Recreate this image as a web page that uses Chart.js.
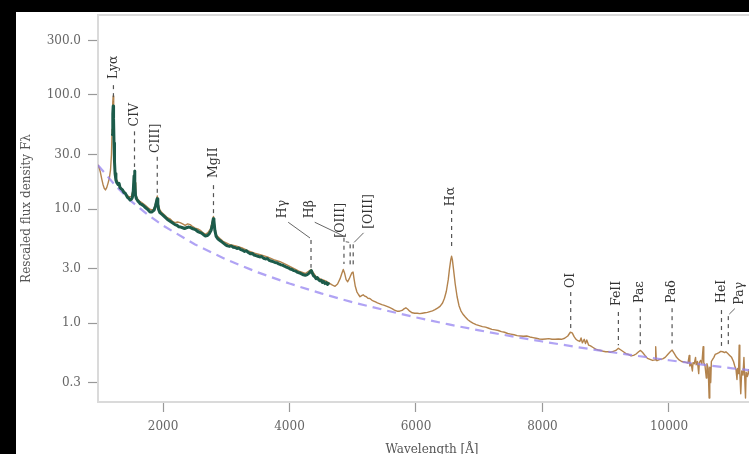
<!DOCTYPE html>
<html>
<head>
<meta charset="utf-8">
<script src="https://cdn.jsdelivr.net/npm/chart.js@4.4.1/dist/chart.umd.min.js"></script>
<style>
  html, body { margin: 0; padding: 0; background: #000; width: 749px; height: 454px; overflow: hidden; }
  #frame { position: absolute; left: 16px; top: 12px; width: 790px; height: 450px; background: #fff; }
  canvas { display: block; }
</style>
</head>
<body>
<div id="frame"><canvas id="spec" width="790" height="450"></canvas></div>
<script>
// ---- axis ticks ----
const xTickValues = [2000, 4000, 6000, 8000, 10000];
const yTickValues = [0.3, 1, 3, 10, 30, 100, 300];
const yTickLabels = ['0.3', '1.0', '3.0', '10.0', '30.0', '100.0', '300.0'];

// ---- full composite spectrum (wavelength in Å, rescaled F_lambda) ----
const tanWave = [
  972, 990, 1010, 1030, 1050, 1070, 1090, 1110, 1130, 1150, 1170, 1185, 1195, 1205, 1212, 1220, 1230, 1245,
  1265, 1290, 1320, 1350, 1385, 1420, 1460, 1500, 1525, 1540, 1550, 1558, 1570, 1600, 1640, 1680, 1720,
  1760, 1800, 1840, 1870, 1895, 1910, 1925, 1950, 1990, 2030, 2070, 2110, 2150, 2190, 2230, 2270, 2310,
  2350, 2390, 2430, 2470, 2510, 2550, 2590, 2630, 2670, 2710, 2750, 2780, 2798, 2815, 2840, 2870, 2900,
  2950, 3050, 3150, 3250, 3350, 3450, 3550, 3650, 3750, 3850, 3950, 4050, 4150, 4250, 4340, 4420, 4500,
  4580, 4640, 4680, 4720, 4760, 4800, 4830, 4850, 4870, 4895, 4920, 4945, 4965, 4985, 5005, 5020, 5040,
  5065, 5090, 5115, 5140, 5165, 5190, 5215, 5240, 5270, 5300, 5330, 5360, 5390, 5420, 5460, 5500, 5540,
  5580, 5620, 5660, 5700, 5740, 5780, 5810, 5840, 5870, 5900, 5940, 5980, 6020, 6060, 6100, 6140, 6180,
  6220, 6260, 6300, 6340, 6380, 6420, 6450, 6480, 6510, 6530, 6550, 6563, 6575, 6595, 6620, 6650, 6680,
  6710, 6740, 6780, 6820, 6860, 6900, 6950, 7000, 7050, 7100, 7150, 7200, 7250, 7300, 7350, 7400, 7450,
  7500, 7550, 7600, 7650, 7700, 7750, 7800, 7850, 7900, 7950, 8000, 8050, 8100, 8150, 8200, 8250, 8300,
  8350, 8400, 8440, 8470, 8500, 8530, 8560, 8590, 8610, 8630, 8660, 8680, 8700, 8730, 8760, 8800, 8840,
  8880, 8920, 8960, 9000, 9040, 9080, 9120, 9160, 9200, 9240, 9280, 9320, 9360, 9400, 9440, 9480, 9520,
  9550, 9580, 9620, 9660, 9700, 9740, 9780, 9790, 9800, 9820, 9860, 9900, 9940, 9980, 10020, 10050, 10080,
  10120, 10160, 10200, 10240, 10280, 10300, 10320, 10330, 10350, 10370, 10380, 10400, 10420, 10430, 10450,
  10470, 10480, 10500, 10520, 10540, 10550, 10570, 10590, 10600, 10620, 10635, 10645, 10660, 10670, 10690,
  10710, 10730, 10760, 10790, 10820, 10850, 10880, 10900, 10930, 10960, 10990, 11020, 11040, 11060, 11075,
  11085, 11100, 11110, 11120, 11135, 11150, 11170, 11185, 11195, 11210, 11220, 11240, 11260, 11280, 11300,
  11330, 11360, 11400, 11450, 11500, 11534
];
const tanFlux = [
  24.5, 23, 21, 18.5, 16.5, 15.2, 14.7, 15.4, 16.8, 18.5, 22, 30, 50, 85, 98, 70, 35, 21,
  18.2, 17.0, 15.8, 15.0, 14.3, 13.4, 12.8, 12.9, 14.5, 18, 20.5, 17, 13.2, 12.2, 11.6, 11.2, 10.8,
  10.3, 9.9, 9.8, 10.5, 12, 13, 11, 9.8, 9.2, 8.8, 8.4, 8.2, 7.8, 7.6, 7.7, 7.6, 7.4,
  7.2, 7.4, 7.3, 7.0, 6.8, 6.7, 6.5, 6.2, 6.0, 6.2, 6.7, 7.8, 8.6, 7.2, 6.0, 5.7, 5.5,
  5.2, 4.9, 4.75, 4.55, 4.3, 4.1, 3.95, 3.8, 3.6, 3.45, 3.25, 3.05, 2.85, 2.72, 2.95, 2.55, 2.42,
  2.33, 2.22, 2.15, 2.1, 2.2, 2.45, 2.75, 2.95, 2.75, 2.4, 2.3, 2.45, 2.6, 2.75, 2.8, 2.45, 2.1,
  1.88, 1.78, 1.70, 1.74, 1.77, 1.72, 1.70, 1.65, 1.64, 1.59, 1.56, 1.53, 1.50, 1.48, 1.45, 1.43, 1.40,
  1.37, 1.34, 1.30, 1.27, 1.27, 1.29, 1.33, 1.36, 1.32, 1.27, 1.23, 1.22, 1.22, 1.21, 1.22, 1.23, 1.24,
  1.26, 1.28, 1.31, 1.35, 1.40, 1.50, 1.65, 1.9, 2.4, 3.0, 3.6, 3.85, 3.6, 2.9, 2.2, 1.7, 1.42,
  1.28, 1.20, 1.13, 1.07, 1.03, 1.00, 0.97, 0.95, 0.93, 0.92, 0.90, 0.88, 0.87, 0.86, 0.84, 0.83, 0.81,
  0.80, 0.79, 0.775, 0.77, 0.765, 0.77, 0.755, 0.745, 0.735, 0.725, 0.72, 0.725, 0.73, 0.72, 0.72, 0.725, 0.72,
  0.735, 0.77, 0.83, 0.82, 0.76, 0.72, 0.70, 0.69, 0.74, 0.67, 0.72, 0.66, 0.71, 0.64, 0.63, 0.61, 0.59,
  0.58, 0.575, 0.565, 0.56, 0.56, 0.555, 0.565, 0.575, 0.60, 0.58, 0.56, 0.54, 0.53, 0.515, 0.52, 0.535, 0.56,
  0.575, 0.555, 0.52, 0.49, 0.48, 0.47, 0.475, 0.62, 0.47, 0.47, 0.48, 0.485, 0.50, 0.53, 0.56, 0.58, 0.545,
  0.50, 0.475, 0.46, 0.455, 0.45, 0.445, 0.52, 0.42, 0.44, 0.38, 0.45, 0.44, 0.50, 0.43, 0.46,
  0.36, 0.45, 0.47, 0.44, 0.62, 0.45, 0.42, 0.33, 0.44, 0.40, 0.22, 0.41, 0.30, 0.46, 0.48,
  0.50, 0.53, 0.54, 0.55, 0.565, 0.56, 0.55, 0.56, 0.54, 0.52, 0.50, 0.46, 0.42, 0.39, 0.32,
  0.40, 0.36, 0.64, 0.37, 0.24, 0.38, 0.35, 0.50, 0.36, 0.22, 0.37, 0.34, 0.39, 0.33, 0.36,
  0.31, 0.34, 0.32, 0.30, 0.31, 0.30
];

// ---- ultraviolet/optical spectrum overlaid in dark green ----
const greenWave = [
  1200, 1206, 1212, 1218, 1225, 1233, 1242, 1255, 1270, 1290, 1305, 1320, 1340, 1360, 1380, 1400, 1420,
  1440, 1460, 1480, 1500, 1515, 1530, 1542, 1550, 1557, 1565, 1580, 1600, 1620, 1640, 1660, 1680, 1700,
  1720, 1740, 1760, 1780, 1800, 1820, 1840, 1860, 1880, 1895, 1907, 1918, 1930, 1950, 1980, 2010, 2040,
  2070, 2100, 2130, 2160, 2190, 2220, 2250, 2280, 2310, 2340, 2370, 2400, 2430, 2460, 2490, 2520, 2550,
  2580, 2610, 2640, 2670, 2700, 2730, 2760, 2780, 2795, 2805, 2820, 2840, 2870, 2900, 2930, 2960, 2990,
  3020, 3050, 3080, 3110, 3140, 3170, 3200, 3230, 3260, 3290, 3320, 3350, 3380, 3410, 3440, 3470, 3500,
  3530, 3560, 3590, 3620, 3650, 3680, 3710, 3740, 3770, 3800, 3830, 3860, 3890, 3920, 3950, 3980, 4010,
  4040, 4070, 4100, 4130, 4160, 4190, 4220, 4250, 4280, 4310, 4330, 4345, 4360, 4380, 4400, 4420, 4440,
  4460, 4480, 4500, 4520, 4540, 4560, 4580, 4600, 4615
];
const greenFlux = [
  45, 68, 80, 62, 38, 26, 20.5, 18.0, 17.0, 16.4, 16.8, 15.4, 15.0, 14.7, 14.0, 13.8, 13.2,
  12.6, 12.4, 12.0, 12.2, 12.6, 14.5, 19.5, 21.5, 17.5, 13.2, 12.3, 11.8, 11.5, 11.1, 11.0, 10.8, 10.6,
  10.3, 10.1, 9.9, 9.6, 9.4, 9.4, 9.6, 9.8, 10.6, 11.5, 12.3, 11.0, 9.9, 9.3, 9.0, 8.7, 8.4,
  8.1, 7.9, 7.7, 7.5, 7.3, 7.2, 7.0, 6.95, 6.85, 6.75, 6.85, 6.95, 6.9, 6.75, 6.65, 6.55, 6.35,
  6.25, 6.15, 5.95, 5.8, 5.85, 6.05, 6.5, 7.3, 8.2, 7.9, 6.5, 5.75, 5.45, 5.3, 5.15, 5.0, 4.85,
  4.75, 4.7, 4.75, 4.62, 4.6, 4.5, 4.55, 4.4, 4.35, 4.25, 4.3, 4.15, 4.05, 4.08, 3.95, 3.9, 3.85,
  3.8, 3.83, 3.7, 3.65, 3.68, 3.55, 3.5, 3.45, 3.4, 3.38, 3.3, 3.25, 3.22, 3.15, 3.1, 3.05, 2.98,
  2.95, 2.88, 2.85, 2.78, 2.75, 2.7, 2.65, 2.62, 2.66, 2.74, 2.84, 2.88, 2.74, 2.6, 2.55, 2.45, 2.5,
  2.4, 2.35, 2.37, 2.27, 2.31, 2.22, 2.26, 2.18, 2.22
];

// ---- power-law continuum estimate (dashed) ----
const contWave = [972, 1250, 1500, 1750, 2000, 2500, 3000, 3500, 4000, 4500, 5000, 5500, 6000, 6500, 7000,
  7500, 8000, 8500, 9000, 9500, 10000, 10500, 11000, 11534];
const contFlux = [24.2, 16.0, 11.65, 9.0, 7.16, 4.91, 3.61, 2.78, 2.22, 1.82, 1.52, 1.30, 1.12, 0.977, 0.862,
  0.767, 0.689, 0.621, 0.564, 0.515, 0.472, 0.434, 0.401, 0.371];

// ---- identified emission lines ----
const lineNames = ['Lyα', 'CIV', 'CIII]', 'MgII', 'Hγ', 'Hβ', '[OIII]', '[OIII]', 'Hα', 'OI', 'FeII', 'Paε', 'Paδ', 'HeI', 'Paγ'];
const lineWaves = [1216, 1549, 1909, 2798, 4340, 4861, 4959, 5007, 6563, 8446, 9200, 9546, 10049, 10830, 10938];

// label placement per line: [label wavelength, label base flux, dash top flux, dash bottom flux]
const labelSpots = [
  [1216, 138, 122, 88],
  [1549, 53, 48, 23.4],
  [1880, 31, 28.7, 13.3],
  [2798, 18.7, 16.2, 8.7],
  [3900, 8.3, 5.35, 3.05],
  [4320, 8.3, 5.6, 3.3],
  [4810, 5.6, 4.9, 3.1],
  [5250, 6.7, 4.9, 3.1],
  [6550, 10.6, 9.8, 4.4],
  [8446, 2.03, 1.87, 0.90],
  [9180, 1.41, 1.25, 0.64],
  [9530, 1.5, 1.35, 0.64],
  [10040, 1.5, 1.35, 0.66],
  [10830, 1.5, 1.3, 0.63],
  [11120, 1.45, 1.15, 0.63]
];

const toPoints = (w, f) => w.map((v, i) => ({ x: v, y: f[i] }));

const serif = '"DejaVu Serif", "Liberation Serif", serif';

const noEdgePadding = s => { s.paddingTop = 0; s.paddingBottom = 0; s.paddingLeft = 0; s.paddingRight = 0; };

const frameLines = {
  id: 'frameLines',
  beforeDatasetsDraw(chart) {
    const { ctx, chartArea: a } = chart;
    ctx.save();
    ctx.strokeStyle = '#dadada';
    ctx.lineWidth = 2;
    ctx.beginPath();
    ctx.moveTo(a.left, a.top);
    ctx.lineTo(a.right, a.top);
    ctx.stroke();
    ctx.restore();
  }
};

const lineLabels = {
  id: 'lineLabels',
  afterDatasetsDraw(chart) {
    const { ctx, scales: { x, y } } = chart;
    ctx.save();
    ctx.font = '12.5px ' + serif;
    ctx.fillStyle = '#333';
    ctx.strokeStyle = '#555';
    ctx.lineWidth = 1.2;
    lineNames.forEach((name, i) => {
      const px = x.getPixelForValue(lineWaves[i]);
      const [lw, lf, dt, db] = labelSpots[i];
      const lx = x.getPixelForValue(lw);
      const ly = y.getPixelForValue(lf);
      const yt = y.getPixelForValue(dt);
      const yb = y.getPixelForValue(db);
      ctx.setLineDash([4, 4]);
      ctx.beginPath();
      ctx.moveTo(px, yt);
      ctx.lineTo(px, yb);
      ctx.stroke();
      if (Math.abs(lx - px) > 3) {
        const dir = px > lx ? 1 : -1;
        ctx.setLineDash([]);
        ctx.lineWidth = 0.9;
        ctx.beginPath();
        ctx.moveTo(lx + dir * 5, ly + 4);
        ctx.lineTo(px - dir * 1, yt - 2);
        ctx.stroke();
        ctx.lineWidth = 1.2;
      }
      ctx.save();
      ctx.translate(lx, ly);
      ctx.rotate(-Math.PI / 2);
      ctx.textAlign = 'left';
      ctx.textBaseline = 'middle';
      ctx.fillText(name, 0, 0);
      ctx.restore();
    });
    ctx.restore();
  }
};

new Chart(document.getElementById('spec'), {
  type: 'scatter',
  data: {
    datasets: [
      {
        data: toPoints(greenWave, greenFlux),
        showLine: true, borderColor: '#1c5b4a', borderWidth: 3, pointRadius: 0,
        borderJoinStyle: 'round', borderCapStyle: 'round'
      },
      {
        data: toPoints(contWave, contFlux),
        showLine: true, borderColor: 'rgba(150, 132, 240, 0.75)', borderWidth: 2.2, pointRadius: 0,
        borderDash: [9, 6]
      },
      {
        data: toPoints(tanWave, tanFlux),
        showLine: true, borderColor: '#b3834d', borderWidth: 1.4, pointRadius: 0,
        borderJoinStyle: 'round'
      }
    ]
  },
  options: {
    responsive: false,
    animation: false,
    layout: { padding: { top: 3, right: 40, left: 0, bottom: 0 } },
    plugins: { legend: { display: false }, tooltip: { enabled: false } },
    scales: {
      x: {
        type: 'linear', min: 972, max: 11534,
        afterBuildTicks: s => { s.ticks = xTickValues.map(v => ({ value: v })); },
        afterFit: s => { s.height = 60; noEdgePadding(s); },
        grid: { display: true, drawOnChartArea: false, drawTicks: true, tickLength: 10, tickColor: '#999', tickWidth: 1.2 },
        border: { display: true, color: '#dadada', width: 2 },
        ticks: { padding: 8, color: '#666', font: { family: serif, size: 12 }, maxRotation: 0, callback: v => String(v) },
        title: { display: true, text: 'Wavelength [Å]', color: '#555', font: { family: serif, size: 12 }, padding: { top: 0, bottom: 5 } }
      },
      y: {
        type: 'logarithmic', min: 0.203, max: 503,
        afterBuildTicks: s => { s.ticks = yTickValues.map(v => ({ value: v })); },
        afterFit: s => { s.width = 82; noEdgePadding(s); },
        grid: { display: true, drawOnChartArea: false, drawTicks: true, tickLength: 10, tickColor: '#999', tickWidth: 1.2 },
        border: { display: true, color: '#dadada', width: 2 },
        ticks: {
          padding: 7, color: '#666', font: { family: serif, size: 12 },
          callback: v => { const k = yTickValues.indexOf(v); return k >= 0 ? yTickLabels[k] : ''; }
        },
        title: { display: true, text: 'Rescaled flux density Fλ', color: '#555', font: { family: serif, size: 12 }, padding: { top: 4, bottom: 0 } }
      }
    }
  },
  plugins: [frameLines, lineLabels]
});
</script>
</body>
</html>
